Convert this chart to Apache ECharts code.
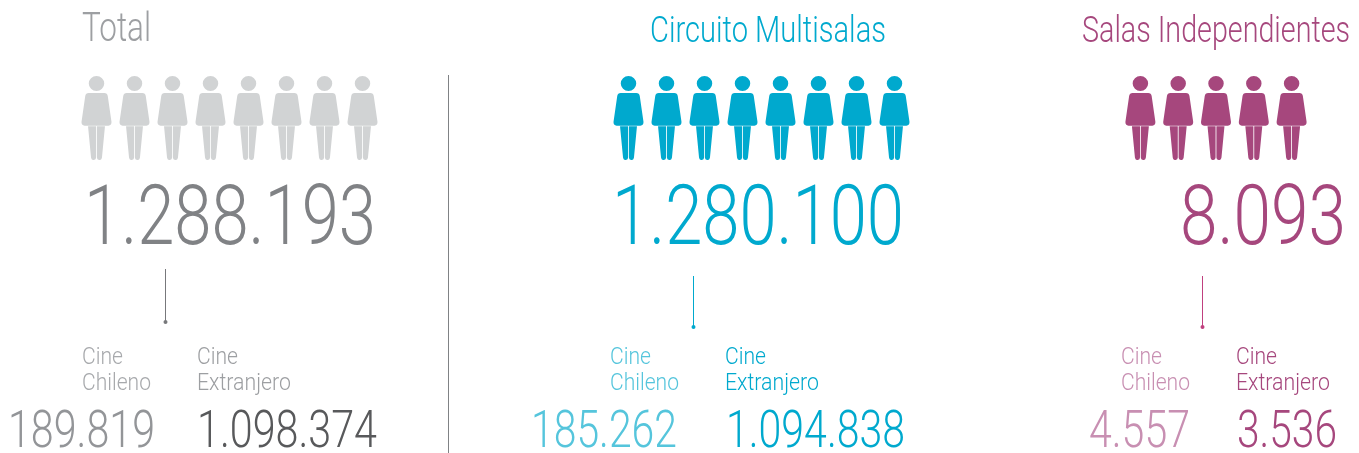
<!DOCTYPE html>
<html>
<head>
<meta charset="utf-8">
<style>
  html, body { margin: 0; padding: 0; background: #fff; }
  #main { width: 1359px; height: 453px; }
</style>
<script src="https://cdn.jsdelivr.net/npm/echarts@6/dist/echarts.min.js"></script>
</head>
<body>
<div id="main"></div>
<script>
// datos
var panelNames = ['Total', 'Circuito Multisalas', 'Salas Independientes']
var totals = [1288193, 1280100, 8093]
var cineChileno = [189819, 185262, 4557]
var cineExtranjero = [1098374, 1094838, 3536]
var iconsTotal = [1, 1, 1, 1, 1, 1, 1, 1]
var iconsCircuito = [1, 1, 1, 1, 1, 1, 1, 1]
var iconsSalas = [1, 1, 1, 1, 1]
var labelChileno = ['Cine', 'Chileno']
var labelExtranjero = ['Cine', 'Extranjero']

var personPath = 'path://M7,7.5a7.5,7.5 0 1,0 15,0a7.5,7.5 0 1,0 -15,0Z' +
  'M7,17L22,17Q25,17 25.4,20L29,46Q29.3,49.6 26,50L3,50Q-0.3,49.6 0,46L3.6,20Q4,17 7,17Z' +
  'M6.3,50.5L14.1,50.5L14.1,82Q14.1,84.5 12,84.5L11,84.5Q9.5,84.5 9.2,82Z' +
  'M14.9,50.5L22.7,50.5L19.8,82Q19.5,84.5 18,84.5L17,84.5Q14.9,84.5 14.9,82Z'

// colores y posiciones de cada bloque
var panels = [
  {
    icons: iconsTotal, left: 77.5, width: 304, icon: '#d1d3d4',
    title: { color: '#9d9fa2', x: [82, 151], y: 31, size: 40 },
    big: { color: '#808285', x: [84, 376] },
    line: { color: '#77787b', x: 165.5, y: [269, 321] },
    chi: { labelX: 82, labelColor: '#a7a9ac', color: '#939598', x: [8, 155] },
    ext: { labelX: 197, labelColor: '#9d9fa2', color: '#58595b', x: [197, 377] }
  },
  {
    icons: iconsCircuito, left: 609.5, width: 304, icon: '#00a9ce',
    title: { color: '#00a9ce', x: [650, 886], y: 33, size: 36 },
    big: { color: '#00a9ce', x: [612, 904] },
    line: { color: '#00a9ce', x: 693.5, y: [276, 326] },
    chi: { labelX: 610, labelColor: '#55c5dc', color: '#55c5dc', x: [531, 677] },
    ext: { labelX: 725, labelColor: '#00a9ce', color: '#00a9ce', x: [726, 905] }
  },
  {
    icons: iconsSalas, left: 1121.5, width: 189, icon: '#a6477d',
    title: { color: '#a6477d', x: [1082, 1350], y: 33, size: 36 },
    big: { color: '#a6477d', x: [1180, 1346] },
    line: { color: '#c0407f', x: 1202.5, y: [276, 326] },
    chi: { labelX: 1121, labelColor: '#c88fb2', color: '#c88fb2', x: [1089, 1190] },
    ext: { labelX: 1236, labelColor: '#a6477d', color: '#a6477d', x: [1237, 1337] }
  }
]

var labelWidth = { Cine: 41, Chileno: 69, Extranjero: 94 }

var fontFamily = 'Roboto'
var measure = document.createElement('canvas').getContext('2d')

// formato chileno: punto como separador de miles
function fmt (n) {
  return String(n).replace(/\B(?=(\d{3})+$)/g, '.')
}

// texto ligero comprimido en horizontal hasta el ancho del original
function fitText (text, x0, x1, y, size, color) {
  measure.font = '300 ' + size + 'px ' + fontFamily
  var w = measure.measureText(text).width
  return {
    type: 'text',
    silent: true,
    x: x0,
    y: y,
    scaleX: (x1 - x0) / w,
    style: {
      text: text,
      fill: color,
      font: '300 ' + size + 'px ' + fontFamily,
      align: 'left',
      verticalAlign: 'middle'
    }
  }
}

var grids = []
var xAxes = []
var yAxes = []
var series = []
var graphics = []

panels.forEach(function (p, i) {
  grids.push({ left: p.left, width: p.width, top: 76, height: 84 })
  xAxes.push({ type: 'category', gridIndex: i, show: false, data: p.icons.map(function (v, k) { return k + 1 }) })
  yAxes.push({ type: 'value', gridIndex: i, show: false, min: 0, max: 1 })
  series.push({
    type: 'pictorialBar',
    xAxisIndex: i,
    yAxisIndex: i,
    silent: true,
    symbol: personPath,
    symbolSize: [30, '100%'],
    symbolPosition: 'start',
    itemStyle: { color: p.icon },
    data: p.icons
  })

  graphics.push(fitText(panelNames[i], p.title.x[0], p.title.x[1], p.title.y, p.title.size, p.title.color))
  graphics.push(fitText(fmt(totals[i]), p.big.x[0], p.big.x[1], 223, 84, p.big.color))

  graphics.push({
    type: 'line',
    silent: true,
    shape: { x1: p.line.x, y1: p.line.y[0], x2: p.line.x, y2: p.line.y[1] },
    style: { stroke: p.line.color, lineWidth: 1 }
  })
  graphics.push({
    type: 'circle',
    silent: true,
    shape: { cx: p.line.x, cy: p.line.y[1] + 1, r: 2 },
    style: { fill: p.line.color }
  })

  ;[[labelChileno, p.chi, cineChileno], [labelExtranjero, p.ext, cineExtranjero]].forEach(function (g) {
    g[0].forEach(function (t, k) {
      graphics.push(fitText(t, g[1].labelX, g[1].labelX + labelWidth[t], 358 + k * 26, 24, g[1].labelColor))
    })
    graphics.push(fitText(fmt(g[2][i]), g[1].x[0], g[1].x[1], 434, 51, g[1].color))
  })
})

// separador vertical
graphics.push({
  type: 'line',
  silent: true,
  shape: { x1: 448.5, y1: 75, x2: 448.5, y2: 453 },
  style: { stroke: '#808285', lineWidth: 1 }
})

var myChart = echarts.init(document.getElementById('main'))
myChart.setOption({
  animation: false,
  backgroundColor: '#fff',
  grid: grids,
  xAxis: xAxes,
  yAxis: yAxes,
  series: series,
  graphic: graphics
})
</script>
</body>
</html>
